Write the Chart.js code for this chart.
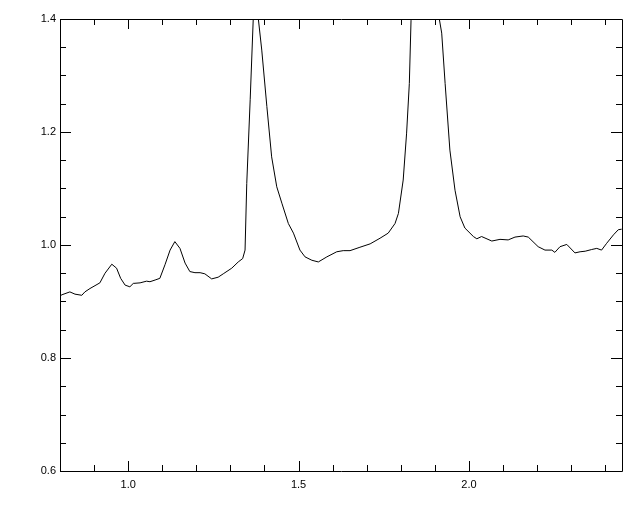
<!DOCTYPE html>
<html>
<head>
<meta charset="utf-8">
<script src="https://cdn.jsdelivr.net/npm/chart.js@4/dist/chart.umd.min.js"></script>
<style>
  body { margin: 0; background: #fff; }
  #wrap { width: 640px; height: 512px; }
</style>
</head>
<body>
<div id="wrap"><canvas id="plot" width="640" height="512"></canvas></div>
<script>
// spectrum
const xVals = [
    0.800, 0.806, 0.829, 0.844, 0.864, 0.873, 0.888, 0.917, 0.932, 0.952,
    0.966, 0.978, 0.991, 1.005, 1.015, 1.035, 1.054, 1.064, 1.079, 1.093,
    1.108, 1.123, 1.137, 1.152, 1.167, 1.181, 1.196, 1.211, 1.225, 1.245,
    1.264, 1.279, 1.304, 1.323, 1.336, 1.343, 1.348, 1.358, 1.367, 1.375,
    1.382, 1.392, 1.407, 1.421, 1.436, 1.451, 1.470, 1.485, 1.504, 1.519,
    1.539, 1.558, 1.583, 1.612, 1.631, 1.651, 1.680, 1.710, 1.739, 1.763,
    1.783, 1.793, 1.807, 1.817, 1.825, 1.830, 1.850, 1.871, 1.895, 1.913,
    1.920, 1.930, 1.944, 1.959, 1.974, 1.988, 2.013, 2.023, 2.037, 2.067,
    2.091, 2.115, 2.135, 2.159, 2.174, 2.203, 2.223, 2.243, 2.252, 2.267,
    2.287, 2.311, 2.326, 2.341, 2.360, 2.375, 2.389, 2.404, 2.424, 2.438,
    2.448
];
const yVals = [
    0.910, 0.912, 0.917, 0.913, 0.911, 0.917, 0.923, 0.933, 0.950, 0.966,
    0.959, 0.941, 0.929, 0.926, 0.932, 0.933, 0.936, 0.935, 0.938, 0.941,
    0.965, 0.991, 1.006, 0.994, 0.968, 0.953, 0.951, 0.951, 0.949, 0.940,
    0.943, 0.949, 0.959, 0.970, 0.976, 0.991, 1.109, 1.257, 1.400, 1.470,
    1.400, 1.345, 1.245, 1.156, 1.103, 1.074, 1.038, 1.021, 0.991, 0.979,
    0.973, 0.970, 0.979, 0.988, 0.990, 0.990, 0.996, 1.002, 1.012, 1.021,
    1.038, 1.056, 1.115, 1.198, 1.286, 1.398, 1.600, 1.700, 1.600, 1.400,
    1.375, 1.286, 1.168, 1.097, 1.050, 1.030, 1.015, 1.011, 1.015, 1.007,
    1.010, 1.009, 1.014, 1.016, 1.014, 0.997, 0.991, 0.991, 0.987, 0.997,
    1.001, 0.986, 0.988, 0.989, 0.992, 0.994, 0.991, 1.003, 1.018, 1.027,
    1.028
];

// axis ticks
const xMajor = [1.0, 1.5, 2.0];
const xMinor = [0.9, 1.1, 1.2, 1.3, 1.4, 1.6, 1.7, 1.8, 1.9, 2.1, 2.2, 2.3, 2.4];
const yMajor = [0.6, 0.8, 1.0, 1.2, 1.4];
const yMinor = [0.65, 0.7, 0.75, 0.85, 0.9, 0.95, 1.05, 1.1, 1.15, 1.25, 1.3, 1.35];

const points = xVals.map((x, i) => ({ x: x, y: yVals[i] }));

// IDL style box with inward ticks on every side
const frame = {
    id: 'frame',
    afterDraw(chart) {
        const ctx = chart.ctx;
        const a = chart.chartArea;
        const sx = chart.scales.x, sy = chart.scales.y;
        ctx.save();
        ctx.strokeStyle = '#000';
        ctx.lineWidth = 1;
        ctx.beginPath();
        ctx.rect(Math.round(a.left) + 0.5, Math.round(a.top) + 0.5,
            Math.round(a.right - a.left), Math.round(a.bottom - a.top));
        const xt = (v, len) => {
            const p = Math.round(sx.getPixelForValue(v)) + 0.5;
            ctx.moveTo(p, a.bottom); ctx.lineTo(p, a.bottom - len);
            ctx.moveTo(p, a.top); ctx.lineTo(p, a.top + len);
        };
        const yt = (v, len) => {
            const p = Math.round(sy.getPixelForValue(v)) + 0.5;
            ctx.moveTo(a.left, p); ctx.lineTo(a.left + len, p);
            ctx.moveTo(a.right, p); ctx.lineTo(a.right - len, p);
        };
        xMajor.forEach(v => xt(v, 10));
        xMinor.forEach(v => xt(v, 6));
        yMajor.forEach(v => yt(v, 11));
        yMinor.forEach(v => yt(v, 6));
        ctx.stroke();
        ctx.restore();
    }
};

new Chart(document.getElementById('plot').getContext('2d'), {
    type: 'scatter',
    data: {
        datasets: [{
            data: points,
            showLine: true,
            borderColor: '#000',
            borderWidth: 1,
            pointRadius: 0,
            tension: 0
        }]
    },
    options: {
        responsive: false,
        animation: false,
        layout: { padding: { top: 19, right: 18, left: 0, bottom: 0 } },
        plugins: { legend: { display: false }, tooltip: { enabled: false } },
        scales: {
            x: {
                type: 'linear',
                min: 0.8,
                max: 2.449,
                grid: { display: false, drawTicks: false },
                border: { display: false },
                afterBuildTicks: (scale) => { scale.ticks = xMajor.map(v => ({ value: v })); },
                afterFit: (scale) => { scale.height = 41; },
                ticks: {
                    color: '#000',
                    padding: 7,
                    autoSkip: false,
                    maxRotation: 0,
                    font: { family: 'Liberation Sans', size: 11 },
                    callback: (v) => Number(v).toFixed(1)
                }
            },
            y: {
                type: 'linear',
                min: 0.6,
                max: 1.4,
                grid: { display: false, drawTicks: false },
                border: { display: false },
                afterBuildTicks: (scale) => { scale.ticks = yMajor.map(v => ({ value: v })); },
                afterFit: (scale) => { scale.width = 60; },
                ticks: {
                    color: '#000',
                    padding: 4,
                    autoSkip: false,
                    font: { family: 'Liberation Sans', size: 11 },
                    callback: (v) => Number(v).toFixed(1)
                }
            }
        }
    },
    plugins: [frame]
});
</script>
</body>
</html>
